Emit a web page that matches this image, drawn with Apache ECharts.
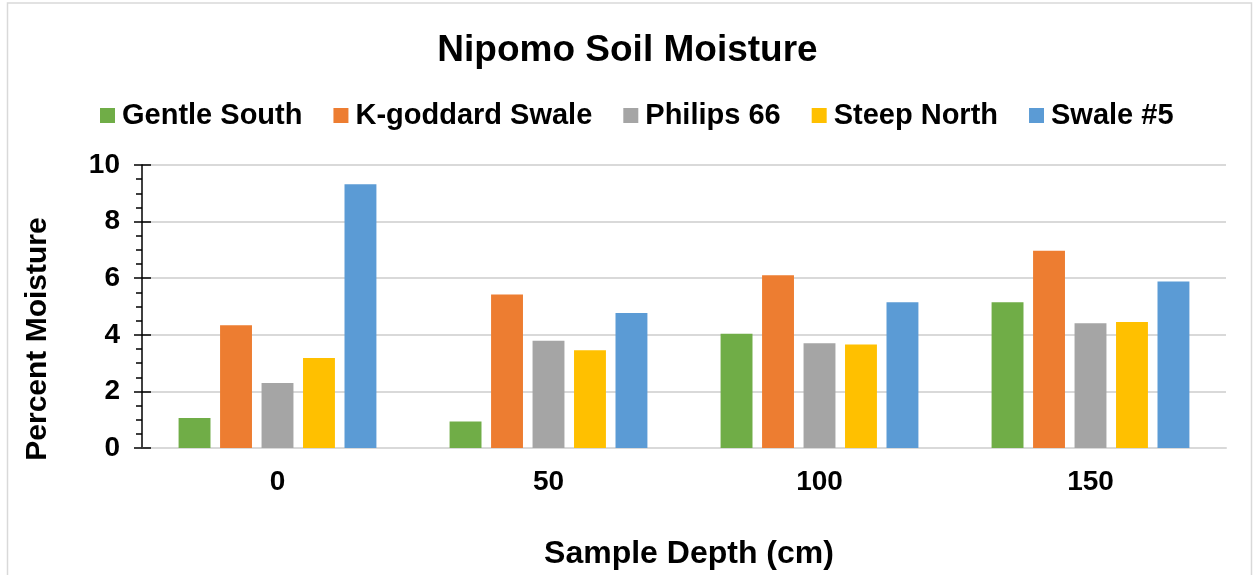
<!DOCTYPE html>
<html>
<head>
<meta charset="utf-8">
<script src="https://cdn.jsdelivr.net/npm/echarts@6/dist/echarts.min.js"></script>
<style>html,body{margin:0;padding:0;background:#fff;}#c{width:1255px;height:575px;}</style>
</head>
<body>
<div id="c"></div>
<script>
const categories = ['0', '50', '100', '150'];
const seriesNames = ['Gentle South', 'K-goddard Swale', 'Philips 66', 'Steep North', 'Swale #5'];
const gentleSouth = [1.06, 0.94, 4.04, 5.15];
const kgoddardSwale = [4.34, 5.42, 6.10, 6.97];
const philips66 = [2.30, 3.79, 3.70, 4.41];
const steepNorth = [3.18, 3.45, 3.66, 4.45];
const swale5 = [9.32, 4.77, 5.15, 5.88];
const colors = ['#70AD47', '#ED7D31', '#A5A5A5', '#FFC000', '#5B9BD5'];
const yTicks = [0, 2, 4, 6, 8, 10];

const seriesData = [gentleSouth, kgoddardSwale, philips66, steepNorth, swale5];
const font = '"Liberation Sans", Arial, sans-serif';

const chart = echarts.init(document.getElementById('c'), null, {renderer: 'canvas'});
chart.setOption({
  animation: false,
  backgroundColor: '#fff',
  color: colors,
  title: {
    text: 'Nipomo Soil Moisture',
    left: 'center',
    top: 27,
    textStyle: {fontFamily: font, fontWeight: 'bold', fontSize: 37, color: '#000'}
  },
  legend: {
    data: seriesNames,
    top: 96,
    left: 95,
    itemWidth: 15,
    itemHeight: 15,
    itemGap: 31,
    icon: 'rect',
    textStyle: {fontFamily: font, fontWeight: 'bold', fontSize: 29, color: '#000', padding: [0, 0, 0, 2]}
  },
  grid: {left: 142, right: 29, top: 165, bottom: 127, containLabel: false},
  xAxis: {
    type: 'category',
    data: categories,
    axisTick: {show: false},
    axisLine: {lineStyle: {color: '#D9D9D9', width: 2}},
    axisLabel: {fontFamily: font, fontWeight: 'bold', fontSize: 28, color: '#000', margin: 20},
    name: 'Sample Depth (cm)',
    nameLocation: 'middle',
    nameGap: 90,
    nameTextStyle: {fontFamily: font, fontWeight: 'bold', fontSize: 32, color: '#000', padding: [0, 0, 0, 10]}
  },
  yAxis: [
    {
      type: 'value',
      min: yTicks[0],
      max: yTicks[yTicks.length - 1],
      interval: 2,
      axisLine: {show: true, lineStyle: {color: '#000', width: 1.5}},
      axisTick: {show: true, length: 8, lineStyle: {color: '#000', width: 1.5}},
      minorTick: {show: true, splitNumber: 4, length: 6, lineStyle: {color: '#000', width: 1.5}},
      splitLine: {lineStyle: {color: '#D9D9D9', width: 2}},
      axisLabel: {fontFamily: font, fontWeight: 'bold', fontSize: 28, color: '#000', margin: 22}
    },
    {
      type: 'value',
      position: 'left',
      min: yTicks[0],
      max: yTicks[yTicks.length - 1],
      interval: 2,
      axisLine: {show: false},
      axisTick: {show: true, inside: true, length: 9, lineStyle: {color: '#000', width: 1.5}},
      splitLine: {show: false},
      axisLabel: {show: false}
    }
  ],
  graphic: [
    {
      type: 'rect',
      shape: {x: 7.5, y: 3, width: 1244, height: 600},
      style: {fill: 'none', stroke: '#D9D9D9', lineWidth: 1.5},
      silent: true
    },
    {
      type: 'text',
      x: 38,
      y: 339,
      rotation: Math.PI / 2,
      style: {
        text: 'Percent Moisture',
        font: 'bold 30px "Liberation Sans", Arial, sans-serif',
        fill: '#000',
        textAlign: 'center',
        textVerticalAlign: 'middle'
      }
    }
  ],
  series: seriesNames.map((n, i) => ({
    name: n,
    type: 'bar',
    yAxisIndex: 0,
    data: seriesData[i],
    barGap: '30%',
    barCategoryGap: '27%',
    itemStyle: {color: colors[i]}
  }))
});
</script>
</body>
</html>
